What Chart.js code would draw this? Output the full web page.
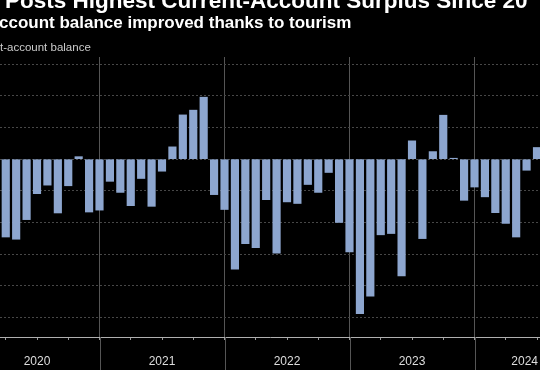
<!DOCTYPE html>
<html>
<head>
<meta charset="utf-8">
<script src="https://cdn.jsdelivr.net/npm/chart.js@4.4.1/dist/chart.umd.min.js"></script>
<style>
  body { margin: 0; background: #000; width: 540px; height: 370px; overflow: hidden; position: relative; font-family: "Liberation Sans", Arial, sans-serif; }
  #chart { position: absolute; left: 0; top: 0; }
  .txt { position: absolute; white-space: nowrap; }
  #title { left: 5px; top: -12px; font-size: 22.5px; line-height: 26px; font-weight: bold; color: #fff; }
  #subtitle { left: -1px; top: 12.5px; font-size: 17px; line-height: 20px; font-weight: bold; color: #fff; }
  #legend { left: 0; top: 39.7px; font-size: 11.5px; line-height: 14px; color: #ccc; }
</style>
</head>
<body>
<canvas id="chart" width="540" height="370"></canvas>
<div class="txt" id="title">Posts Highest Current-Account Surplus Since 20</div>
<div class="txt" id="subtitle">ccount balance improved thanks to tourism</div>
<div class="txt" id="legend">t-account balance</div>
<script>
// monthly current-account balance (visible window of the original chart)
const months = [
  '2020-03','2020-04','2020-05','2020-06','2020-07','2020-08','2020-09','2020-10','2020-11','2020-12',
  '2021-01','2021-02','2021-03','2021-04','2021-05','2021-06','2021-07','2021-08','2021-09','2021-10','2021-11','2021-12',
  '2022-01','2022-02','2022-03','2022-04','2022-05','2022-06','2022-07','2022-08','2022-09','2022-10','2022-11','2022-12',
  '2023-01','2023-02','2023-03','2023-04','2023-05','2023-06','2023-07','2023-08','2023-09','2023-10','2023-11','2023-12',
  '2024-01','2024-02','2024-03','2024-04','2024-05','2024-06'
];
const balance = [
  -2.46, -2.53, -1.91, -1.09, -0.82, -1.70, -0.84, 0.08, -1.67, -1.61,
  -0.70, -1.05, -1.47, -0.61, -1.49, -0.38, 0.39, 1.40, 1.55, 1.96, -1.12, -1.59,
  -3.48, -2.67, -2.80, -1.28, -2.97, -1.35, -1.40, -0.80, -1.05, -0.42, -2.00, -2.93,
  -4.88, -4.33, -2.39, -2.35, -3.69, 0.58, -2.51, 0.24, 1.39, 0.03, -1.30, -0.88,
  -1.19, -1.69, -2.03, -2.46, -0.35, 0.37
];
const yearLabels = ['2020', '2021', '2022', '2023', '2024'];

const BAR = '#8da6cf';
const GRID = '#474747';
const YEAR_LINE = '#555';

// bars sit on the month-end date, as a fractional year
function monthEnd(m) {
  const [y, mo] = m.split('-').map(Number);
  return y + mo / 12;
}

const isWhole = v => Math.abs(v - Math.round(v)) < 1e-6;

const yearAxis = {
  id: 'yearAxis',
  afterDraw(chart) {
    const ctx = chart.ctx, x = chart.scales.x, area = chart.chartArea;
    ctx.save();
    // year separators run down through the label strip
    ctx.strokeStyle = YEAR_LINE;
    ctx.lineWidth = 1;
    yearLabels.forEach(lab => {
      const px = Math.round(x.getPixelForValue(+lab)) + 0.5;
      if (px < 0 || px > chart.width) return;
      ctx.beginPath();
      ctx.moveTo(px, area.bottom);
      ctx.lineTo(px, chart.height);
      ctx.stroke();
    });
    ctx.font = '12px "Liberation Sans", Arial, sans-serif';
    ctx.fillStyle = '#ddd';
    ctx.textAlign = 'center';
    yearLabels.forEach(lab => {
      const w = ctx.measureText(lab).width;
      let cx = x.getPixelForValue(+lab + 0.5);
      cx = Math.min(cx, chart.width - 2 - w / 2);
      ctx.fillText(lab, cx, 365);
    });
    ctx.restore();
  }
};

new Chart(document.getElementById('chart'), {
  type: 'bar',
  data: {
    datasets: [{
      data: months.map((m, i) => ({ x: monthEnd(m), y: balance[i] })),
      backgroundColor: BAR,
      barThickness: 7.5,
      clip: 0
    }]
  },
  options: {
    responsive: false,
    animation: false,
    layout: { padding: { top: 57, bottom: 30, left: 0, right: 0 } },
    plugins: { legend: { display: false }, tooltip: { enabled: false } },
    scales: {
      x: {
        type: 'linear',
        offset: false,
        min: 2020.204,
        max: 2024.524,
        afterBuildTicks: axis => {
          const t = [];
          for (let v = 2020.25; v <= 2024.5; v += 0.25) t.push({ value: v });
          axis.ticks = t;
        },
        ticks: { display: false },
        grid: {
          offset: false,
          color: c => (c.tick && isWhole(c.tick.value)) ? YEAR_LINE : 'rgba(0,0,0,0)',
          tickColor: '#999',
          tickLength: 3
        },
        border: { color: '#b0b0b0', width: 1 }
      },
      y: {
        min: -5.62,
        max: 3.23,
        ticks: { display: false, stepSize: 1, includeBounds: false },
        grid: { color: GRID, drawTicks: false, tickLength: 0 },
        border: { display: false, dash: [2, 2] }
      }
    }
  },
  plugins: [yearAxis]
});
</script>
</body>
</html>
